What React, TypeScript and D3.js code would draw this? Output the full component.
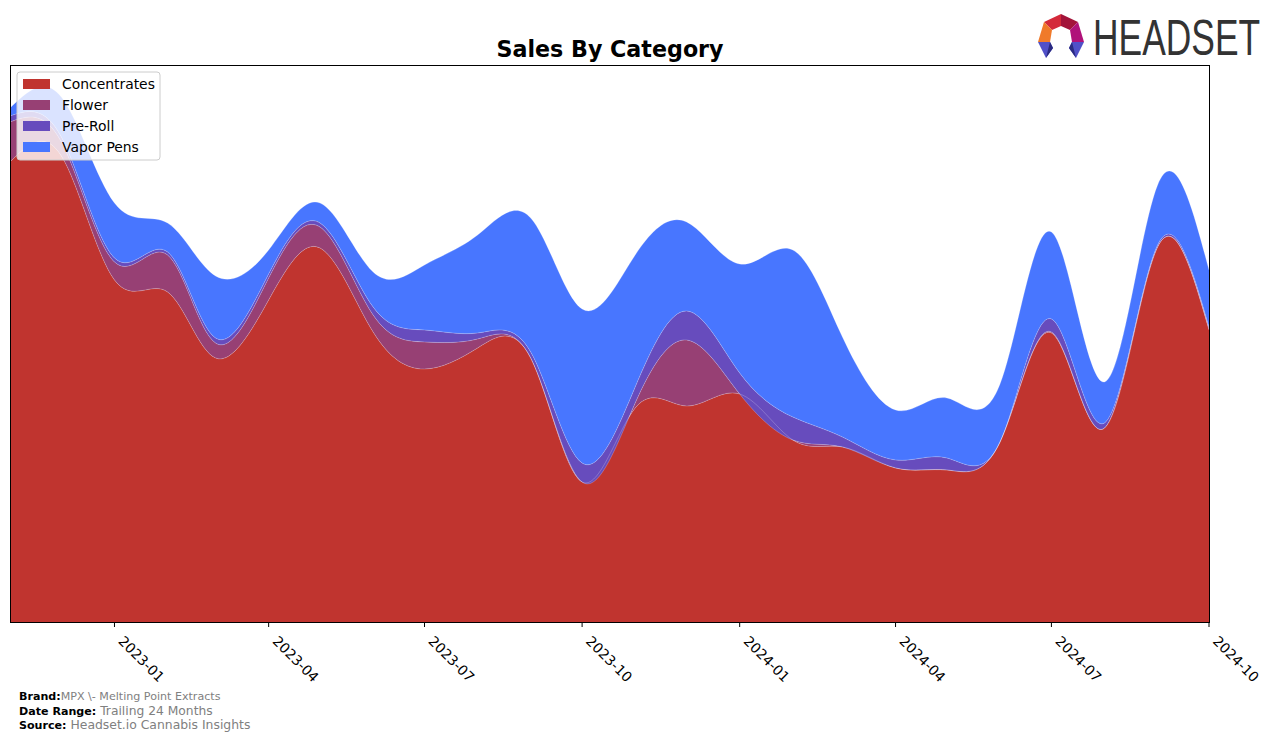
import React from 'react';
import * as d3 from 'd3';

// Monthly data (arbitrary sales units), 2022-11 .. 2024-10
const months = [
  '2022-11', '2022-12', '2023-01', '2023-02', '2023-03', '2023-04',
  '2023-05', '2023-06', '2023-07', '2023-08', '2023-09', '2023-10',
  '2023-11', '2023-12', '2024-01', '2024-02', '2024-03', '2024-04',
  '2024-05', '2024-06', '2024-07', '2024-08', '2024-09', '2024-10',
];
const concentrates = [460, 466, 342, 330, 264, 322, 374, 290, 253, 274, 264, 140, 214, 216, 228, 182, 175, 154, 152, 180, 289, 194, 375, 292];
const flower = [40, 14, 18, 37, 15, 22, 21, 17, 27, 9, 0, 0, 5, 66, 0, 0, 0, 0, 0, 0, 1, 0, 0, 1];
const preRoll = [6, 5, 4, 3, 5, 4, 4, 8, 12, 6, 6, 19, 16, 29, 21, 23, 10, 8, 12, 0, 13, 5, 2, 2];
const vaporPens = [8, 40, 55, 29, 62, 24, 20, 35, 65, 98, 134, 154, 132, 89, 109, 167, 100, 50, 60, 58, 87, 41, 60, 57];

const categories = ['Concentrates', 'Flower', 'Pre-Roll', 'Vapor Pens'];
const seriesValues = [concentrates, flower, preRoll, vaporPens];
const colors = ['#c0342f', '#974074', '#674cbd', '#4876ff'];
const tickLabels = ['2023-01', '2023-04', '2023-07', '2023-10', '2024-01', '2024-04', '2024-07', '2024-10'];
const Y_MAX = 557;

export default function App() {
  const W = 1276;
  const H = 741;
  const left = 10, right = 1209, top = 65, bottom = 622;
  const parse = d3.utcParse('%Y-%m');
  const dates = months.map((m) => parse(m) as Date);
  const x = d3.scaleUtc().domain([dates[0], dates[dates.length - 1]]).range([left, right]);
  const y = d3.scaleLinear().domain([0, Y_MAX]).range([bottom, top]);

  const table = months.map((m, i) => {
    const row: any = { date: dates[i] };
    categories.forEach((c, k) => { row[c] = seriesValues[k][i]; });
    return row;
  });
  const stacked = d3.stack().keys(categories)(table as any);
  const area = d3.area<any>()
    .x((d) => x(d.data.date))
    .y0((d) => y(d[0]))
    .y1((d) => y(d[1]))
    .curve(d3.curveNatural);
  const line = d3.line<any>()
    .x((d) => x(d.data.date))
    .y((d) => y(d[1]))
    .curve(d3.curveNatural);

  const tickDates = tickLabels.map((t) => parse(t) as Date);
  const font = 'DejaVu Sans, sans-serif';

  return (
    <svg width={W} height={H} style={{ position: 'absolute', left: 0, top: 0, background: '#fff' }}>
      <defs>
        <clipPath id="plotclip">
          <rect x={left} y={top} width={right - left} height={bottom - top} />
        </clipPath>
      </defs>
      <text x={610} y={57} textAnchor="middle" fontFamily={font} fontWeight="bold" fontSize={22.2}>Sales By Category</text>

      <g clipPath="url(#plotclip)">
        {stacked.map((s, k) => (
          <path key={categories[k]} d={area(s as any) || ''} fill={colors[k]} stroke="none" />
        ))}
        {stacked.map((s, k) => (
          <path key={'l' + k} d={line(s as any) || ''} fill="none" stroke="#ffffff" strokeOpacity={0.28} strokeWidth={0.8} />
        ))}
      </g>
      <rect x={left + 0.5} y={top + 0.5} width={right - left} height={bottom - top} fill="none" stroke="#000" strokeWidth={1} />

      {tickDates.map((d, i) => (
        <g key={tickLabels[i]}>
          <line x1={x(d)} x2={x(d)} y1={bottom} y2={bottom + 5} stroke="#000" strokeWidth={1} />
          <text transform={`translate(${x(d) + 3},${642}) rotate(45)`} fontFamily={font} fontSize={13.9} fill="#000">{tickLabels[i]}</text>
        </g>
      ))}

      <g>
        <rect x={17} y={72} width={143} height={88} rx={3} fill="#fff" fillOpacity={0.8} stroke="#cccccc" strokeWidth={1} />
        {categories.map((c, k) => (
          <g key={c}>
            <rect x={23} y={79 + k * 21} width={27} height={10} fill={colors[k]} />
            <text x={62} y={89 + k * 21} fontFamily={font} fontSize={13.9} fill="#000">{c}</text>
          </g>
        ))}
      </g>

      <g fontFamily={font}>
        <text x={19} y={700} fontSize={11.1}><tspan fontWeight="bold">Brand:</tspan><tspan fill="#808080">MPX \- Melting Point Extracts</tspan></text>
        <text x={19} y={715} fontSize={11.1}><tspan fontWeight="bold">Date Range:</tspan><tspan fill="#808080" fontSize={12.3}> Trailing 24 Months</tspan></text>
        <text x={19} y={729} fontSize={11.1}><tspan fontWeight="bold">Source:</tspan><tspan fill="#808080" fontSize={12.4}> Headset.io Cannabis Insights</tspan></text>
      </g>

      <g>
        <polygon points="1044,22 1061,14 1061,26 1052,30" fill="#d42a3a" />
        <polygon points="1061,14 1078,22 1070,30 1061,26" fill="#a3143a" />
        <polygon points="1044,22 1052,30 1050,42 1038,42" fill="#f07a2a" />
        <polygon points="1078,22 1084,42 1072,42 1070,30" fill="#b0127a" />
        <polygon points="1038,42 1050,42 1053,48 1046,58" fill="#5050c8" />
        <polygon points="1072,42 1084,42 1076,58 1069,48" fill="#5050c8" />
        <polygon points="1046,58 1053,48 1050,42" fill="#2a2a80" />
        <polygon points="1076,58 1069,48 1072,42" fill="#2a2a80" />
        <text transform="translate(1093,55) scale(0.708,1)" fontFamily="Liberation Sans, sans-serif" fontSize={50} fill="#333333">HEADSET</text>
      </g>
    </svg>
  );
}
